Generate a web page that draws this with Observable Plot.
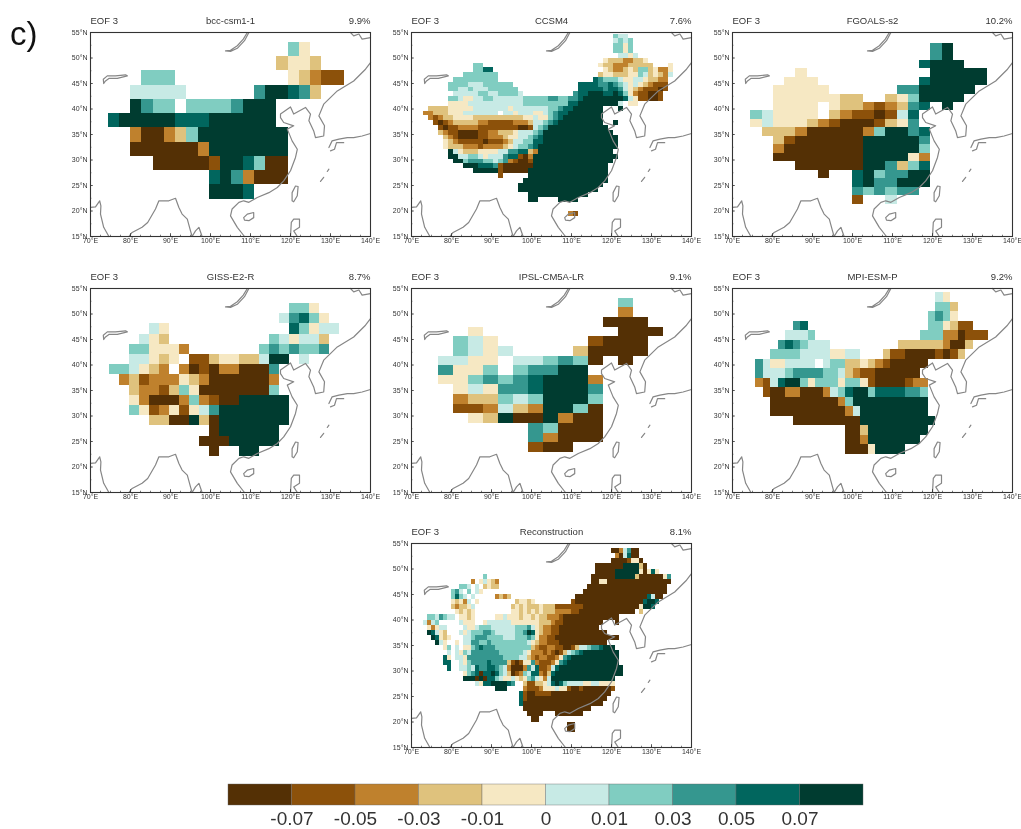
<!DOCTYPE html>
<html><head><meta charset="utf-8">
<script src="https://cdn.jsdelivr.net/npm/d3@7"></script>
<script src="https://cdn.jsdelivr.net/npm/@observablehq/plot@0.6"></script>
<style>
html,body{margin:0;padding:0;background:#fff;width:1021px;height:829px;overflow:hidden;font-family:"Liberation Sans",Arial,sans-serif}
.abs{position:absolute}
svg{display:block}
#page{filter:blur(0.5px)}
</style></head><body>
<div id="page" style="position:relative;width:1021px;height:829px;overflow:hidden"></div>
<script>
// colour classes 0..9 (10 classes of the colour bar); rows are "startColumn:classes", "." = no data
const breaks=[-0.07,-0.05,-0.03,-0.01,0,0.01,0.03,0.05,0.07];
const breakLabels=["-0.07","-0.05","-0.03","-0.01","0","0.01","0.03","0.05","0.07"];
const colors=["#543005","#8c510a","#bf812d","#dfc27d","#f6e8c3","#c7eae5","#80cdc1","#35978f","#01665e","#003c30"];
const classValues=[-0.08,-0.06,-0.04,-0.02,-0.005,0.005,0.02,0.04,0.06,0.08];
const lonTicks=[70,80,90,100,110,120,130,140];
const latTicks=[15,20,25,30,35,40,45,50,55];
const lonMinor=d3.range(70,140.1,2.5);
const latMinor=d3.range(15,55.1,2.5);

const bccRows=["16:64","15:3443","3:666 16:43211","2:55555 13:799873","2:9766.66667999","0:899999888999999",
"2:200236 8:99999999","2:000000 8:2 9:9999999","4:00000 9:1 10:99 12:8 13:6 14:00","9:8 10:9 11:7 12:2 13:000","9:999 12:8"];

const ccsmRows=["38:655","38:5656","38:6646","38:6646","39:5545","36:433322334",
"10:66 35:43322233333 49:4","10:6688 36:43223436634224","8:6666666 35:344333446534325",
"6:666666666 34:876665445543322","5:6666555666666 31:888877876545432111","5:66556555666666 31:888887887543211101",
"6:55555665566665 30:788999889864211001","5:66544556655555566666776677 31:8 32:99999999 40:8 41:5 42:4 43:11 45:00 47:1",
"5:4444 9:55555 14:555555 20:666666666 29:88 31:99999999 39:5 41:44",
"1:3333 5:44444 10:5555555 17:4 18:55555 23:55 25:66 27:7 28:88 30:999999 39:9",
"0:22333444 8:5555555 15:. 16:55 18:4 19:55 21:5 22:44 24:5 25:6 26:7 27:88 29:9999999",
"1:212 4:33 6:4444 10:3333333333 20:44 22:5 23:44 25:6 26:7 27:8 28:99999999",
"2:10 4:1 5:2 6:3333 10:3 11:22 13:11111 18:222 21:3 22:55 24:6 25:7 26:8 27:999999999 38:9",
"3:1 4:0 5:11 7:2222 11:11111111 19:00 21:1 22:5 23:6 24:7 25:999999999999",
"3:3 4:2 5:11 7:0000 11:11 13:22 15:333 18:4 19:555 22:6 23:7 24:99999999999999",
"4:3 5:2 6:1 7:0000 11:11 13:222 16:3 17:44 19:55 21:6 22:7 23:8 24:999999999999999",
"4:4 5:3 6:2 7:11111 12:0 13:111 16:2 17:3 18:55 20:66 22:88 24:999999999999999",
"4:4 5:333 8:222 11:1 12:2222 16:3 17:4 18:5 19:66 21:7 22:8 23:9999999999999999",
"5:9 6:5 7:4 8:333 11:4444 15:55 17:77 19:88 21:3 22:2 23:999999999999999",
"5:99 7:55 9:66 11:5 12:4 13:555 16:7 17:88 19:1 20:0 21:2 22:99999999999999999",
"6:99 8:6 9:777 12:66 14:5 15:6 16:7 17:2 18:1 19:00 21:1 22:9999999999999999",
"8:999 11:888 14:7 15:1 16:000000 22:999999999999999",
"10:99999 15:1 16:00000 21:9999999999999999",
"15:1 21:9999999999999999","20:99999999999999999","19:99999999999999999","19:9999999999999999",
"21:999999999999","21:99 27:9999","","","29:21"];

const fgoalsRows=["16:79","16:79","15:8999","4:4 16:99999","3:444 15:8 16:99999","2:44444 13:77 15:99999",
"2:44444 7:4 8:33 12:3 13:4 14:6 15:9999","2:4444 7:4 8:33 10:2 11:1 12:2 13:3 14:7 15:8 17:9",
"0:65 2:4444 7:3 8:2 9:11 11:0 12:1 13:5 14:8","0:45 2:444 5:3 6:2 7:1 8:000 11:1 12:3 13:4 14:7",
"1:333 4:2 5:00000 10:2 11:6 12:99 14:7 15:8","2:31 4:000000 10:99999 15:7","2:2 3:0000000 10:99999 15:6",
"2:00000000 10:9999 14:4 15:2","4:000000 10:99 12:7 13:3 14:6 15:8","6:0 9:8 10:9 11:6 12:77 14:99",
"9:8 10:9 11:77 13:999","9:7 10:6 11:7 12:6 13:77","9:1 12:5"];

const gissRows=["18:664","17:57864","4:54 18:864 21:55","3:543 16:654553","2:66 4:444 7:2 15:6767667",
"2:55434.11 10:3 11:44 13:33 15:5 16:99 19:5","0:665432.2010 11:22 13:000 16:7","1:231222 7:4 8:3 9:2 10:000000 16:2",
"2:3221364 9:0000000 16:6","2:42 4:000 7:2 8:6 9:2 10:1 11:00 13:99999","2:64 4:1 5:2 6:4 7:1 8:4 9:5 10:7 11:9999999",
"4:33 6:00 8:9 9:3 10:0 11:9999999","10:0 11:999999","9:000 12:99999","10:0 13:99"];

const ipslRows=["12:6","12:2","11:000","2:4 12:000","1:654 10:1 11:000","1:6545 9:3 10:0000",
"0:5544.55676 10:0 12:0","0:7446.67799","0:44676789992","1:4547789997","1:2336569996","1:1125329960",
"2:439009200","6:7 7:6 8:000","6:7 7:2 8:000","6:1 7:00"];

const mpiRows=["24:54","24:663","23:6764","5:78 23:66 25:4 26:3 27:11","4:555 7:6 22:666 25:22 27:0 28:111",
"3:7876 7:555 19:33333 24:3 25:2 26:00 28:3","2:6666 6:555 9:5 10:44 12:55 17:3 18:11 20:000 23:0 24:1 25:0 26:1 27:3",
"0:75 2:44 4:5555 9:5 10:66 12:33 14:4 15:3 16:2 17:1 18:00000","0:7 1:555 4:6 5:7777 9:66 11:5 12:3 13:2 14:11 16:000000",
"0:2158 4:99 6:6 7:4 8:666 11:4 12:66 14:4 15:1 16:0000 20:1 21:22","1:1 2:00 4:22 6:000 9:2 10:5 11:6 12:8 13:99 15:6 16:8888 20:77 22:6",
"2:000000000 11:2 12:6 13:9999999999","2:0000000000 12:2 13:5 14:999999999","5:000000000 14:9999999999",
"12:00 14:3 15:99999999","12:00 14:2 15:9999999","12:000 15:4 16:9999"];

const reconRows=["47:0025700","48:205800","47:00001440","43:0000000 50:9999 54:30","43:00000 48:999999 54:40484",
"15:6 42:000000 48:99999 53:3 54:000000 60:47","12:2 14:45432 42:00 44:44 46:0000000000000000",
"9:665.5.3433 41:00000000000000000000","7:675.6.54 40:000000000000000000000",
"7:68 9:65.5 18:2323 38:000000000000000000 56:8 57:5 58:00","7:43425.4 23:34434 37:1 38:00000000000000000 55:8998",
"7:323345 22:34343334333 33:1111111 40:00000000000000 54:4 55:998","8:43434 22:44343434333 33:222211 39:00000000000000 54:3",
"1:6657655.4434 18:44544434434 29:33222 34:1 35:00000000000000","0:5256 9:5444 15:4555555 22:4444444 29:333 32:2 33:11 35:0000000000 48:0",
"1:42455 10:5445666 17:555555 23:6667 27:5 28:4 29:3 30:22 32:11 34:0000000000",
"1:98543 9:5456667765 19:5555 23:66 25:7 26:9 27:8 28:4 29:3 30:22 32:11 34:000000000000",
"2:98434 10:55677766665 21:55 23:666 26:7 27:6 28:4 29:22 31:11 33:0000000000000000",
"3:954 8:4 10:5577667 17:66666666 25:6 26:5 27:4 28:3 29:22 31:111 34:000000000000",
"5:46.5 10:44 12:67877 17:7 18:666666666 27:3 28:2 29:11 31:22 33:11 35:00 37:1 38:3 39:55 41:6 42:77 44:8 45:999",
"6:5.54657777777 19:666666 25:5 26:4 27:222 30:1 31:2 32:1 33:0 34:1 35:3 36:5 37:6 38:7 39:8 40:999999999",
"5:84.554777777777 20:6666 24:55 26:3 27:2 28:1 29:22 31:11 33:2 34:4 35:7 36:8 37:999999999999",
"5:88 9:546 12:7777 16:8 17:7777 21:3 22:1 23:0 24:1 25:44 27:7 28:2 29:111 32:2 33:4 34:7 35:8 36:9999999999999",
"6:8 9:5565 13:8 14:77 16:88 18:7 19:6 20:5 21:2 22:000 25:2 26:7 27:5 28:8 29:11 31:2 32:5 33:8 34:9999999999999999",
"10:467 13:8 14:0 15:88 17:9 18:8 19:6 20:5 21:3 22:0 23:1 24:2 25:6 26:5 27:88 29:2 30:1 31:3 32:8 33:99999999999999999",
"10:999 13:0 14:9 15:0 16:88 18:6 19:5 20:44 22:5 23:4 24:3 25:4 26:6 27:7 28:5 29:4 30:2 31:5 32:9999999999999999",
"13:54 15:88 17:9999 21:8 22:7 25:3 26:11 28:33 30:4 31:5 32:8 33:9 34:8 35:6 36:555544554444",
"18:999 25:2 26:111 29:2 30:444 33:5 34:44 36:1 37:00100000001",
"24:8 25:1 26:00 28:1111 32:000000000000000","24:8 25:1 26:00000000000000000000","24:8 25:0 26:0000000000000000000",
"25:00000000000000000","26:0000 33:0000000","27:00","36:00","36:00"];

// coastlines and lakes, [lon,lat]
const coastlines=[
[[70,20.7],[71.25,20.8],[72.3,22],[72.6,21],[72.5,19.4],[73.3,16.8],[74.6,15]],
[[79.6,15],[80.4,15.8],[82.9,16.8],[84.3,17.75],[86.25,20.4],[87.1,22],[89.6,22],[91.25,22.5],[92.1,20.7],[92.9,19.4],[94.2,18.4],[95,16.1],[95.4,15],[96.25,16.1],[97.1,16.8],[97.9,15]],
[[108.5,15],[106.7,16.8],[105,19.05],[105.4,20.4],[107.1,21.7],[108.3,22],[109.6,21.7],[111.7,22.65],[114.6,23.6],[116.7,24.6],[118.3,25.9],[120,27.9],[121.25,30.5],[121.7,32.1],[120.4,33.75],[119.2,36.05],[120.8,36.7],[118.3,37.35],[117.5,38.3],[117.5,39],[120,40.4],[120.8,39],[123.75,40.3],[125,39],[124.6,37.7],[125.8,35.7],[126.25,34.4],[128.3,34.7],[128.5,36.7],[127.1,38.65],[128.3,40.95],[131.7,43.55],[135.8,45.5],[138.75,47.8],[140,49.1]],
[[135,55],[135.8,54.35],[137.1,54.7],[137.9,53.7],[140,54]],
[[129.6,32.45],[130.4,33.75],[132.1,34.1],[134.2,34.4],[135.8,34.4],[137.9,34.7],[140,35.2]],
[[130,31.8],[131,32.1],[131.5,33.4],[133.3,33.4]],
[[129.6,28.2],[129.2,27.75]],
[[128.3,26.6],[127.5,25.8]],
[[120.4,22],[120.4,23.6],[121.25,24.9],[121.9,24.8],[121.7,23],[120.8,21.8],[120.4,22]],
[[108.3,18.7],[109.2,19.4],[110.8,19.7],[110.8,18.7],[109.6,18.1],[108.5,18.2],[108.3,18.7]],
[[120,15],[120.2,17.75],[120.8,18.4],[122.25,18.4],[122.25,16.8],[120.8,16.1],[121.7,15]],
[[73.3,45],[73.2,45.85],[74.2,46.5],[76.25,46.5],[78.75,46.7],[79.2,46.5],[76.7,46],[74.6,46],[73.75,45.5],[73.3,45]],
[[103.75,51.4],[105,51.5],[106.7,52.4],[108.2,53.7],[109.2,55],[109.6,55],[108.5,53.4],[106.7,51.9],[105,51.3],[103.75,51.4]]
];
const coast=coastlines.flatMap((s,i)=>s.map(([lon,lat])=>({lon,lat,seg:i})));

const models=[
 {name:"bcc-csm1-1",pct:"9.9%",rows:bccRows,lon0:74.42,lat0:53.04,dlon:2.8125,dlat:2.79,fx:90,fy:32},
 {name:"CCSM4",pct:"7.6%",rows:ccsmRows,lon0:73,lat0:54.67,dlon:1.25,dlat:0.942,fx:411,fy:32},
 {name:"FGOALS-s2",pct:"10.2%",rows:fgoalsRows,lon0:74.6,lat0:52.9,dlon:2.8125,dlat:1.66,fx:732,fy:32},
 {name:"GISS-E2-R",pct:"8.7%",rows:gissRows,lon0:74.83,lat0:52.06,dlon:2.5,dlat:2,fx:90,fy:288},
 {name:"IPSL-CM5A-LR",pct:"9.1%",rows:ipslRows,lon0:76.75,lat0:53.1,dlon:3.75,dlat:1.89,fx:411,fy:288},
 {name:"MPI-ESM-P",pct:"9.2%",rows:mpiRows,lon0:75.83,lat0:54.2,dlon:1.875,dlat:1.865,fx:732,fy:288},
 {name:"Reconstruction",pct:"8.1%",rows:reconRows,lon0:73,lat0:54,dlon:1,dlat:1,fx:411,fy:543}
];

function decode(m){
  const out=[];
  m.rows.forEach((row,r)=>{
    row.split(" ").filter(Boolean).forEach(seg=>{
      const [start,chars]=seg.split(":");
      [...chars].forEach((ch,k)=>{
        if(ch==="."){return;}
        const c=+start+k;
        out.push({x1:m.lon0+c*m.dlon,x2:m.lon0+(c+1)*m.dlon,y1:m.lat0-r*m.dlat,y2:m.lat0-(r+1)*m.dlat,v:classValues[+ch]});
      });
    });
  });
  return out;
}

const FONT='"Liberation Sans",Arial,sans-serif';
const ML=28,MR=14,MT=24,MB=16;
const page=document.getElementById("page");
function place(el,x,y){el.classList.add("abs");el.style.left=x+"px";el.style.top=y+"px";page.appendChild(el);}

for(const m of models){
  const p=Plot.plot({
    width:280+ML+MR,height:204+MT+MB,marginLeft:ML,marginRight:MR,marginTop:MT,marginBottom:MB,
    style:{background:"transparent",fontFamily:FONT},
    x:{domain:[70,140]},y:{domain:[15,55]},
    color:{type:"threshold",domain:breaks,range:colors},
    marks:[
      Plot.rect(decode(m),{x1:"x1",x2:"x2",y1:"y1",y2:"y2",fill:"v",shapeRendering:"crispEdges"}),
      Plot.line(coast,{x:"lon",y:"lat",z:"seg",stroke:"#868686",strokeWidth:1.2,curve:"linear"}),
      Plot.ruleX(lonMinor,{y1:15,y2:15.25,stroke:"#444",strokeWidth:0.7}),
      Plot.ruleY(latMinor,{x1:70,x2:70.35,stroke:"#444",strokeWidth:0.7}),
      Plot.ruleX(lonTicks,{y1:15,y2:15.55,stroke:"#333",strokeWidth:0.8}),
      Plot.ruleY(latTicks,{x1:70,x2:70.7,stroke:"#333",strokeWidth:0.8}),
      Plot.frame({stroke:"#333",strokeWidth:1.1}),
      Plot.axisX({ticks:lonTicks,tickFormat:d=>d+"°E",tickSize:0,tickPadding:2,fontSize:7,color:"#333",label:null}),
      Plot.axisY({ticks:latTicks,tickFormat:d=>d+"°N",tickSize:0,tickPadding:3,fontSize:7,color:"#333",label:null}),
      Plot.text(["EOF 3"],{frameAnchor:"top-left",dy:-15,fontSize:9.5,fill:"#333"}),
      Plot.text([m.name],{frameAnchor:"top",dy:-15,fontSize:9.5,fill:"#333"}),
      Plot.text([m.pct],{frameAnchor:"top-right",dy:-15,fontSize:9.5,fill:"#333"})
    ]
  });
  place(p,m.fx-ML,m.fy-MT);
}

// colour bar
const barCells=colors.map((c,i)=>({i,v:classValues[i]}));
const bar=Plot.plot({
  width:675,height:49,marginLeft:20,marginRight:20,marginTop:4,marginBottom:24,
  style:{background:"transparent",fontFamily:FONT},
  x:{domain:[0,10]},y:{domain:[0,1]},
  color:{type:"threshold",domain:breaks,range:colors},
  marks:[
    Plot.rect(barCells,{x1:"i",x2:d=>d.i+1,y1:0,y2:1,fill:"v",stroke:"#666",strokeWidth:0.4}),
    Plot.axisY({ticks:[],label:null}),
    Plot.axisX({ticks:breaks.map((b,i)=>i+1),tickFormat:d=>breakLabels[d-1],tickSize:0,tickPadding:6,fontSize:19,color:"#333",label:null})
  ]
});
place(bar,208,780);

const tag=document.createElement("div");
tag.textContent="c)";
tag.style.cssText="font:33px "+FONT+";color:#111";
place(tag,10,15);
</script>
</body></html>
